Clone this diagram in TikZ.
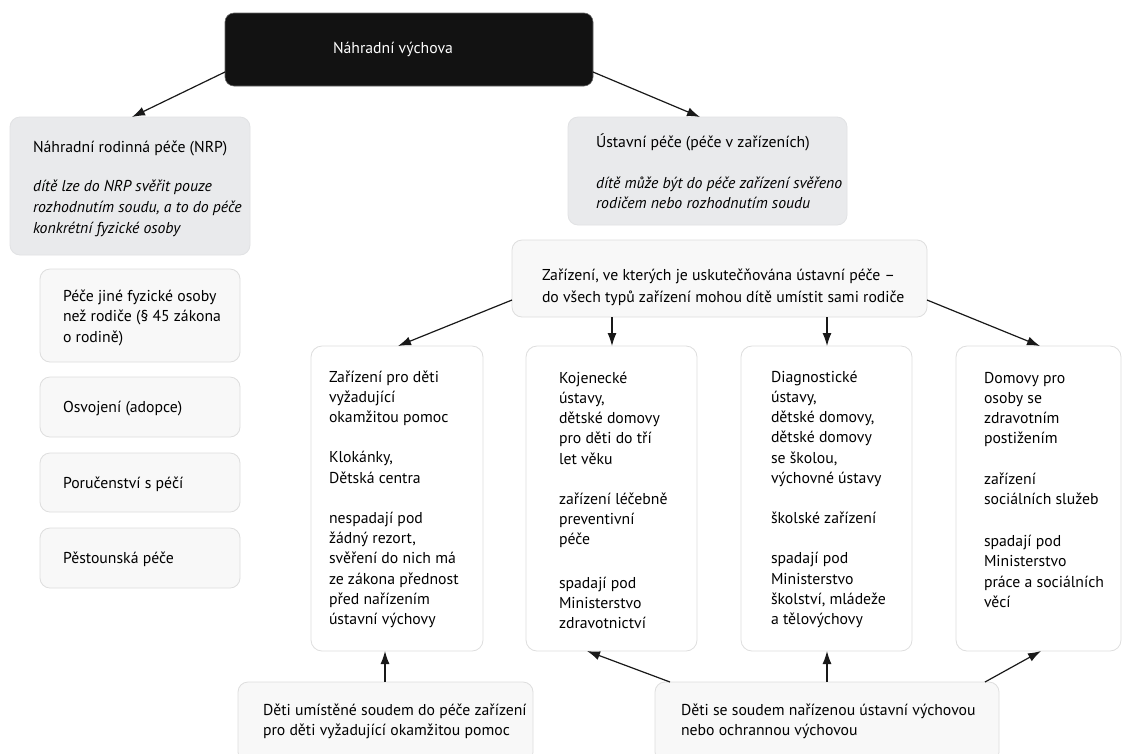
\documentclass[tikz,border=0pt]{standalone}
\usepackage{fontspec}
\setmainfont{PT Sans}
\usetikzlibrary{arrows.meta,calc}
\definecolor{gfill}{HTML}{E9EAEC}
\definecolor{gline}{HTML}{E1E2E4}
\definecolor{lfill}{HTML}{F8F8F8}
\definecolor{lline}{HTML}{DEDEDE}
\newcommand\fsz{15.75}
% #1 width, #2 height, #3 left pad, #4 first baseline from top, #5 baselineskip, #6 text
\newcommand\bt[6]{\begin{minipage}[t][#2pt][t]{#1pt}\fontsize{\fsz}{#5}\selectfont\vspace*{\dimexpr#4pt-16pt\relax}\leftskip=#3pt\rightskip=0pt plus 1fil\parfillskip=0pt plus 1fil\rule{0pt}{16pt}#6\par\end{minipage}}
\begin{document}
\begin{tikzpicture}[x=1pt,y=-1pt,
 every node/.style={inner sep=0pt, outer sep=0pt, anchor=north west},
 graybox/.style={draw=gline, fill=gfill, line width=0.8pt, rounded corners=10pt},
 lightbox/.style={draw=lline, fill=lfill, line width=0.8pt, rounded corners=10pt},
 whitebox/.style={draw=lline, fill=white, line width=0.8pt, rounded corners=11pt},
 blackbox/.style={fill=black!93, draw=black!60, line width=0.6pt, rounded corners=9pt, text=white},
 arr/.style={-{Latex[length=13pt,width=9pt]}, line width=1.2pt, black!90}]
\clip (0,0) rectangle (1123,753);
\fill[white] (0,0) rectangle (1123,753);

\node[blackbox] (top) at (225,13) {\bt{368}{73}{108}{40}{20}{Náhradní výchova}};

\node[graybox] (nrp) at (10,117) {\bt{240}{138}{23}{35}{21}{Náhradní rodinná péče (NRP)\\[18pt]{\itshape dítě lze do NRP svěřit pouze\\rozhodnutím soudu, a to do péče\\konkrétní fyzické osoby}}};
\node[graybox] (ust) at (568,117) {\bt{279}{108}{28}{30}{20}{Ústavní péče (péče v zařízeních)\\[21pt]{\itshape dítě může být do péče zařízení svěřeno\\rodičem nebo rozhodnutím soudu}}};

\node[lightbox] (l1) at (40,269) {\bt{200}{93}{23}{32}{20.5}{Péče jiné fyzické osoby\\než rodiče (§ 45 zákona\\o rodině)}};
\node[lightbox] (l2) at (40,377) {\bt{200}{60}{23}{35}{20}{Osvojení (adopce)}};
\node[lightbox] (l3) at (40,453) {\bt{200}{59}{23}{35}{20}{Poručenství s péčí}};
\node[lightbox] (l4) at (40,528) {\bt{200}{60}{23}{35}{20}{Pěstounská péče}};

\node[lightbox] (zar) at (512,240) {\bt{415}{77}{30}{40}{22}{Zařízení, ve kterých je uskutečňována ústavní péče –\\do všech typů zařízení mohou dítě umístit sami rodiče}};

\node[whitebox] (ba) at (311,346) {\bt{172}{305}{18}{36}{20.25}{Zařízení pro děti\\vyžadující\\okamžitou pomoc\\[20pt]Klokánky,\\Dětská centra\\[20pt]nespadají pod\\žádný rezort,\\svěření do nich má\\ze zákona přednost\\před nařízením\\ústavní výchovy}};
\node[whitebox] (bb) at (526,346) {\bt{171}{305}{33}{37}{20.25}{Kojenecké\\ústavy,\\dětské domovy\\pro děti do tří\\let věku\\[20pt]zařízení léčebně\\preventivní\\péče\\[23pt]spadají pod\\Ministerstvo\\zdravotnictví}};
\node[whitebox] (bc) at (741,346) {\bt{171}{305}{30}{36}{20.25}{Diagnostické\\ústavy,\\dětské domovy,\\dětské domovy\\se školou,\\výchovné ústavy\\[20pt]školské zařízení\\[20pt]spadají pod\\Ministerstvo\\školství, mládeže\\a tělovýchovy}};
\node[whitebox] (bd) at (956,346) {\bt{165}{305}{28}{37}{20.25}{Domovy pro\\osoby se\\zdravotním\\postižením\\[20pt]zařízení\\sociálních služeb\\[22pt]spadají pod\\Ministerstvo\\práce a sociálních\\věcí}};

\node[lightbox] (bl) at (238,682) {\bt{295}{80}{25}{33}{20}{Děti umístěné soudem do péče zařízení\\pro děti vyžadující okamžitou pomoc}};
\node[lightbox] (br) at (655,682) {\bt{344}{80}{26}{33}{20}{Děti se soudem nařízenou ústavní výchovou\\nebo ochrannou výchovou}};

% connectors
\draw[arr] ($(top.north west)+(0,59)$) -- ($(nrp.north west)+(122,0)$);
\draw[arr] ($(top.north east)+(0,59)$) -- ($(ust.north west)+(132,0)$);
\draw[arr] ($(zar.north west)+(0,60)$) -- ($(ba.north west)+(87,0)$);
\draw[arr] ($(zar.south west)+(100,0)$) -- ($(bb.north west)+(86,0)$);
\draw[arr] ($(zar.south west)+(315,0)$) -- ($(bc.north west)+(86,0)$);
\draw[arr] ($(zar.north east)+(0,60)$) -- ($(bd.north west)+(84,0)$);
\draw[arr] ($(bl.north west)+(147,0)$) -- ($(ba.south west)+(74,0)$);
\draw[arr] ($(br.north west)+(15,0)$) -- ($(bb.south west)+(61,0)$);
\draw[arr] ($(br.north west)+(172,0)$) -- ($(bc.south west)+(86,0)$);
\draw[arr] ($(br.north west)+(330,0)$) -- ($(bd.south west)+(85,0)$);
\end{tikzpicture}
\end{document}
